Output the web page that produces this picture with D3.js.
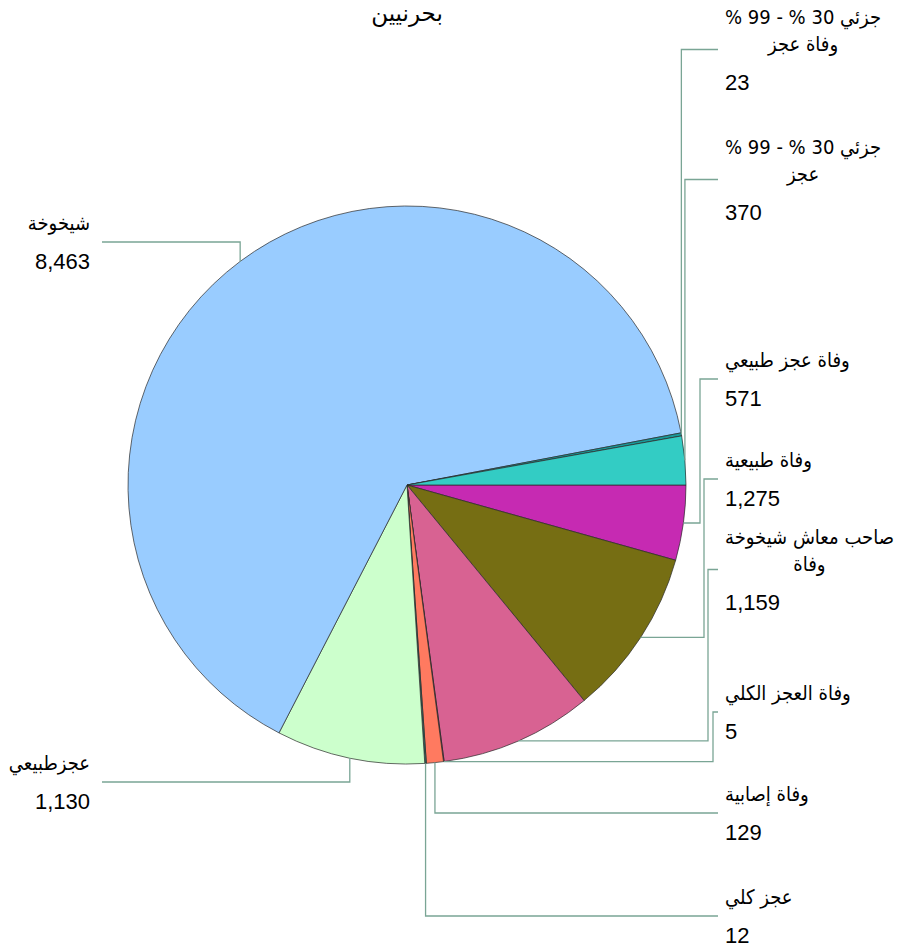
<!DOCTYPE html>
<html>
<head>
<meta charset="utf-8">
<script src="https://cdn.jsdelivr.net/npm/d3@7"></script>
<style>
  body { margin: 0; background: #fff; }
  text { font-family: "Liberation Sans", Arial, "DejaVu Sans", sans-serif; font-size: 22px; fill: #000; }
  text.cat { font-family: "DejaVu Sans Condensed", "DejaVu Sans", sans-serif; font-size: 20px; }
  text.title { font-family: "DejaVu Sans", sans-serif; font-size: 23px; }
</style>
</head>
<body>
<svg id="chart" width="904" height="951"></svg>
<script>
/* DATA (clockwise from 3 o'clock) */
const title = 'بحرنيين';
const categories = [
  ['وفاة عجز طبيعي'],
  ['وفاة طبيعية'],
  ['صاحب معاش شيخوخة', 'وفاة'],
  ['وفاة العجز الكلي'],
  ['وفاة إصابية'],
  ['عجز كلي'],
  ['عجزطبيعي'],
  ['شيخوخة'],
  ['جزئي 30 % - 99 %', 'وفاة عجز'],
  ['جزئي 30 % - 99 %', 'عجز']
];
const values = [571, 1275, 1159, 5, 129, 12, 1130, 8463, 23, 370];
const colors = ['#c62ab2', '#766e13', '#d86292', '#8a3a60', '#ff7a60', '#2f6f66',
                '#ccffcc', '#99ccff', '#1a9a9a', '#33ccc4'];

// label placement: side, centre of first text line, x of the elbow (null = straight from the pie)
const labelLayout = [
  { side: 'right', top: 360, elbow: 700 },
  { side: 'right', top: 460, elbow: 704 },
  { side: 'right', top: 537, elbow: 708 },
  { side: 'right', top: 693, elbow: 713 },
  { side: 'right', top: 794, elbow: null },
  { side: 'right', top: 897, elbow: null },
  { side: 'left',  top: 763, elbow: null },
  { side: 'left',  top: 223, elbow: null },
  { side: 'right', top: 17,  elbow: null },
  { side: 'right', top: 147, elbow: null }
];

/* SIZES */
const width = 904, height = 951;
const cx = 407, cy = 485, radius = 279;
const lineGap = 27, valueGap = 38;
const rightTextX = 725, rightLineEnd = 718;
const leftTextX = 90, leftLineEnd = 102;

const svg = d3.select('#chart');
const fmt = d3.format(',');

svg.append('text')
  .attr('class', 'title')
  .attr('x', cx).attr('y', 21)
  .attr('text-anchor', 'middle')
  .attr('direction', 'rtl')
  .text(title);

const pie = d3.pie()
  .sort(null)
  .value(d => d)
  .startAngle(Math.PI / 2)
  .endAngle(Math.PI / 2 + 2 * Math.PI);

const arcs = pie(values);
const arc = d3.arc().innerRadius(0).outerRadius(radius);
const edge = d3.arc().innerRadius(radius).outerRadius(radius);

const g = svg.append('g').attr('transform', `translate(${cx},${cy})`);

g.selectAll('path')
  .data(arcs)
  .join('path')
  .attr('d', arc)
  .attr('fill', (d, i) => colors[i])
  .attr('stroke', '#2a2a2a')
  .attr('stroke-width', 0.7);

// labels and leader lines
const labels = svg.append('g');
const leaders = svg.append('g')
  .attr('fill', 'none')
  .attr('stroke', '#7aa595')
  .attr('stroke-width', 1.3);

arcs.forEach((d, i) => {
  const lay = labelLayout[i];
  const lines = categories[i];
  const lastLine = lay.top + (lines.length - 1) * lineGap;
  const valueY = lastLine + valueGap;
  const midY = (lay.top + valueY) / 2;

  // category lines, centred on the widest one
  const texts = lines.map((t, k) => labels.append('text')
    .attr('class', 'cat')
    .attr('y', lay.top + k * lineGap + 7)
    .attr('text-anchor', 'middle')
    .attr('direction', 'rtl')
    .text(t));
  const w = d3.max(texts, t => t.node().getComputedTextLength());
  const centre = lay.side === 'right' ? rightTextX + w / 2 : leftTextX - w / 2;
  texts.forEach(t => t.attr('x', centre));

  labels.append('text')
    .attr('x', lay.side === 'right' ? rightTextX : leftTextX)
    .attr('y', valueY + 8)
    .attr('text-anchor', lay.side === 'right' ? 'start' : 'end')
    .text(fmt(values[i]));

  // leader
  const [ex, ey] = edge.centroid(d);
  const px = cx + ex, py = cy + ey;
  const endX = lay.side === 'right' ? rightLineEnd : leftLineEnd;
  const pts = lay.elbow == null
    ? [[px, py], [px, midY], [endX, midY]]
    : [[px, py], [lay.elbow, py], [lay.elbow, midY], [endX, midY]];
  leaders.append('path').attr('d', d3.line()(pts));
});
</script>
</body>
</html>
